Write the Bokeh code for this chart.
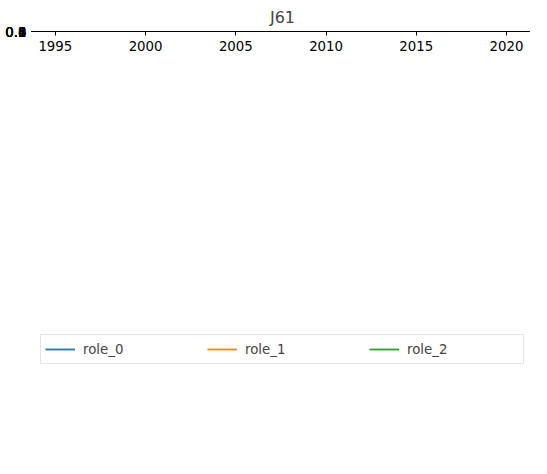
from bokeh.plotting import figure
from bokeh.models import Range1d, Legend, LegendItem, FixedTicker
from bokeh.embed import file_html
from bokeh.resources import INLINE

years = list(range(1995, 2021))
role_1 = [0, 0, 0, 0.001, 0.005, 0.012, 0.019, 0.007, 0.006, 0.005, 0.015, 0.007, 0.004, 0.001, 0.002, 0.002, 0.001,
          0, 0, 0, 0, 0, 0, 0, 0, 0]
role_2 = [0.0] * 26
role_0 = [1 - a - b for a, b in zip(role_1, role_2)]

p = figure(width=531, height=458, output_backend="svg", toolbar_location=None,
           title="J61", x_range=Range1d(1993.9, 2021.27), y_range=Range1d(-0.039, 1.054),
           min_border_left=35, min_border_right=2, min_border_top=5)
p.title.align = "center"
p.title.text_font_size = "12pt"
p.title.text_font_style = "normal"
p.title.text_font = "DejaVu Sans"
p.grid.visible = False
p.outline_line_color = "black"
p.xaxis.ticker = FixedTicker(ticks=[1995, 2000, 2005, 2010, 2015, 2020])
p.yaxis.ticker = FixedTicker(ticks=[0, 0.2, 0.4, 0.6, 0.8, 1.0])
for ax in (p.xaxis, p.yaxis):
    ax.minor_tick_line_color = None
    ax.major_label_text_font = "DejaVu Sans"
    ax.major_label_text_font_size = "10pt"
    ax.major_label_text_color = "black"
    ax.axis_line_color = "black"
    ax.major_tick_in = 0
    ax.major_tick_out = 4

cols = ["#1f77b4", "#ff7f0e", "#2ca02c"]
items = []
for name, ys, c in [("role_0", role_0, cols[0]), ("role_1", role_1, cols[1]), ("role_2", role_2, cols[2])]:
    r = p.line(years, ys, line_color=c, line_width=1.8)
    items.append(LegendItem(label=name, renderers=[r]))

leg = Legend(items=items, orientation="horizontal", glyph_width=30, label_width=112, spacing=12,
             label_text_font="DejaVu Sans", label_text_font_size="10pt",
             border_line_color="#cccccc", padding=4, margin=10, label_standoff=8,
             location="center")
p.add_layout(leg, "below")

open("out.html", "w").write(file_html(p, INLINE))
